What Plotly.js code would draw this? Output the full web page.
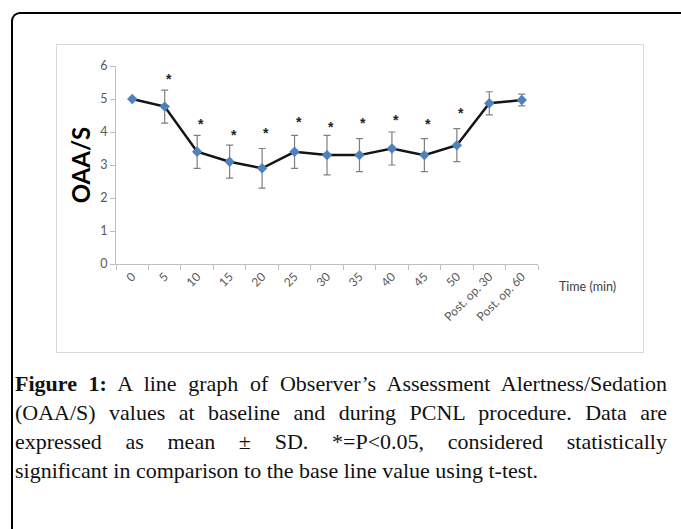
<!DOCTYPE html>
<html>
<head>
<meta charset="utf-8">
<script src="https://cdn.plot.ly/plotly-3.0.1.min.js"></script>
<style>
  html, body { margin: 0; padding: 0; background: #fff; width: 681px; height: 529px; overflow: hidden; }
  #frame { position: absolute; left: 11px; top: 12px; width: 720px; height: 600px;
           border-top: 2px solid #000; border-left: 2px solid #000; border-top-left-radius: 9px; }
  #box { position: absolute; left: 56px; top: 44px; width: 586px; height: 307px; border: 1px solid #d9d9d9; }
  #chart { width: 586px; height: 307px; }
  #caption { position: absolute; left: 15px; top: 369px; width: 652px;
             font-family: "Liberation Serif", "DejaVu Serif", serif; font-size: 22px; line-height: 29px;
             color: #111; }
  #caption .ln { display: block; text-align: justify; text-align-last: justify; white-space: nowrap; }
  #caption .last { display: block; text-align: left; white-space: nowrap; }
  #caption b { font-weight: bold; }
</style>
</head>
<body>
<div id="frame"></div>
<div id="box"><div id="chart"></div></div>
<div id="caption"><span class="ln"><b>Figure 1:</b> A line graph of Observer’s Assessment Alertness/Sedation</span><span class="ln">(OAA/S) values at baseline and during PCNL procedure. Data are</span><span class="ln">expressed as mean ± SD. *=P&lt;0.05, considered statistically</span><span class="last">significant in comparison to the base line value using t-test.</span></div>
<script>
// Data
const categories = ["0", "5", "10", "15", "20", "25", "30", "35", "40", "45", "50", "Post. op. 30", "Post. op. 60"];
const meanValues = [5.0, 4.77, 3.4, 3.1, 2.9, 3.4, 3.3, 3.3, 3.5, 3.3, 3.6, 4.87, 4.97];
const sdValues   = [0.0, 0.5, 0.5, 0.5, 0.6, 0.5, 0.6, 0.5, 0.5, 0.5, 0.5, 0.35, 0.18];
const starCategories = ["5", "10", "15", "20", "25", "30", "35", "40", "45", "50"];
const starValues     = [5.73, 4.37, 4.04, 4.08, 4.42, 4.27, 4.39, 4.49, 4.35, 4.70];
const yTickValues = [0, 1, 2, 3, 4, 5, 6];

const trace = {
  x: categories,
  y: meanValues,
  type: "scatter",
  mode: "lines+markers",
  line: { color: "#141414", width: 2.5 },
  marker: { symbol: "diamond", size: 8, color: "#4f81bd" },
  error_y: { type: "data", array: sdValues, visible: true, color: "#7f7f7f", thickness: 1.2, width: 3.5 },
  hoverinfo: "x+y"
};

// category index positions for annotations on a category axis
const starAnnotations = starCategories.map((c, i) => ({
  x: categories.indexOf(c), y: starValues[i], xref: "x", yref: "y", text: "<b>*</b>", showarrow: false,
  xshift: 4, yshift: -4, font: { family: "Liberation Sans, Arial, sans-serif", size: 14, color: "#222" }
}));

const layout = {
  width: 586, height: 307,
  margin: { l: 59, r: 105, t: 21, b: 88 },
  paper_bgcolor: "#fff", plot_bgcolor: "#fff",
  showlegend: false,
  font: { family: "Lato, 'Open Sans', sans-serif", color: "#595959" },
  xaxis: {
    type: "category",
    range: [-0.5, 12.5],
    tickson: "boundaries",
    ticks: "outside", ticklen: 5, tickcolor: "#bfbfbf", tickwidth: 1,
    showline: true, linecolor: "#bfbfbf", linewidth: 1,
    showgrid: false, zeroline: false,
    tickangle: -45,
    tickfont: { size: 12, color: "#595959" }
  },
  yaxis: {
    range: [0, 6],
    tickvals: yTickValues,
    ticks: "outside", ticklen: 5, tickcolor: "#bfbfbf", tickwidth: 1,
    showline: true, linecolor: "#bfbfbf", linewidth: 1,
    showgrid: false, zeroline: false,
    tickfont: { size: 12.5, color: "#595959" },
    title: { text: "<b>OAA/S</b>", font: { family: "Lato, 'Open Sans', sans-serif", size: 24, color: "#000" }, standoff: 2 }
  },
  annotations: starAnnotations.concat([{
    xref: "paper", yref: "paper", x: 1.045, y: -0.114, xanchor: "left", yanchor: "middle",
    text: "Time (min)", showarrow: false, font: { size: 12.5, color: "#404040" }
  }])
};

Plotly.newPlot("chart", [trace], layout, { staticPlot: true, displayModeBar: false });
</script>
</body>
</html>
